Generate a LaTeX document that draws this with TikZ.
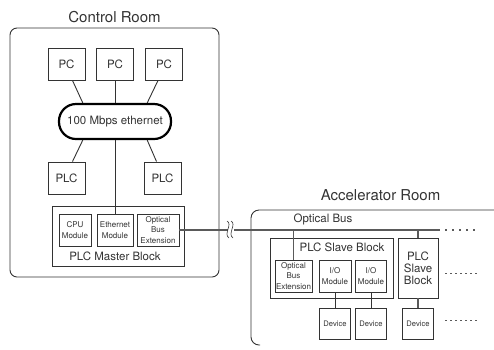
\documentclass[tikz,border=0pt]{standalone}
\usepackage{fontspec}
\setmainfont{TeX Gyre Heros}
\definecolor{ink}{HTML}{333333}
\definecolor{bus}{HTML}{5A5A5A}
\usetikzlibrary{positioning}
\tikzset{
  box/.style={draw=ink, fill=white, align=center, inner sep=0.5pt, line width=0.9pt},
  lnk/.style={draw=ink, line width=0.9pt},
  buslnk/.style={draw=bus, line width=1.6pt},
  title/.style={font=\fontsize{15}{18}\selectfont, text=ink},
  lbl/.style={font=\fontsize{11.5}{12}\selectfont, text=ink, align=center},
  small/.style={font=\fontsize{8}{10.5}\selectfont, text=ink},
  devtxt/.style={font=\fontsize{7.6}{9}\selectfont, text=ink},
}

\begin{document}
\begin{tikzpicture}[x=1pt,y=-1pt,
    room/.style={draw=ink,line width=0.9pt,rounded corners=7pt},
    dots/.style={draw=bus,line width=1pt,dash pattern=on 1.5pt off 3.5pt}]
  \useasboundingbox (0,0) rectangle (494,349);
  % control room
  \node[room,minimum width=209,minimum height=249] (ctrl) at (114.5,152.5) {};
  \node[title,above=1pt of ctrl] (ctrltitle) {Control Room};
  \node[box,lbl,minimum width=37,minimum height=32] (pc1) at (66.5,64) {PC};
  \node[box,lbl,minimum width=37,minimum height=32] (pc2) at (115,64) {PC};
  \node[box,lbl,minimum width=37,minimum height=32] (pc3) at (164,64) {PC};
  \node[draw=black,fill=white,line width=2.2pt,rounded corners=17pt,lbl,
        minimum width=112,minimum height=35] (eth) at (115,121.5) {100 Mbps ethernet};
  \node[box,lbl,minimum width=37,minimum height=32] (plc1) at (66.5,178) {PLC};
  \node[box,lbl,minimum width=37,minimum height=32] (plc2) at (162.5,178) {PLC};
  \node[box,minimum width=132,minimum height=60] (master) at (118,236) {};
  \node[box,small,minimum width=32,minimum height=32] (cpu) at (75,230) {CPU\\Module};
  \node[box,small,minimum width=36,minimum height=32] (ethmod) at (115,230) {Ethernet\\Module};
  \node[box,small,minimum width=42,minimum height=32] (mobe) at (158,230) {Optical\\Bus\\Extension};
  \node[lbl] (masterlbl) at (115,256) {PLC Master Block};
  \draw[lnk] (pc1.-70) -- (eth.150);
  \draw[lnk] (pc2.south) -- (eth.north);
  \draw[lnk] (pc3.-110) -- (eth.30);
  \draw[lnk] (eth.210) -- (plc1.70);
  \draw[lnk] (eth.-30) -- (plc2.110);
  \draw[lnk] (eth.south) -- (ethmod.north);

  % accelerator room
  \draw[room,rounded corners=8pt] (494,210) -- (251,210) -- (251,345) -- (260,345);
  \node[title] (acctitle) at (380.5,195) {Accelerator Room};
  \node[lbl] (buslbl) at (323,219) {Optical Bus};
  \node[box,minimum width=123,minimum height=60] (slave) at (331.5,268) {};
  \node[lbl] (slavelbl) at (342,247) {PLC Slave Block};
  \node[box,small,minimum width=37,minimum height=32] (sobe) at (293.5,276) {Optical\\Bus\\Extension};
  \node[box,small,minimum width=32,minimum height=32] (io1) at (335,276) {I/O\\Module};
  \node[box,small,minimum width=31,minimum height=32] (io2) at (371,276) {I/O\\Module};
  \node[box,lbl,minimum width=40,minimum height=60] (slave2) at (418,268) {PLC\\Slave\\Block};
  \node[box,devtxt,minimum width=31,minimum height=31] (dev1) at (335,323.5) {Device};
  \node[box,devtxt,minimum width=31,minimum height=31] (dev2) at (371,323.5) {Device};
  \node[box,devtxt,minimum width=31,minimum height=31] (dev3) at (418,323.5) {Device};

  % optical bus
  \coordinate (brkL) at (228,230);
  \coordinate (brkR) at (234,230);
  \coordinate (busend) at (440,230);
  \draw[buslnk] (mobe.east) -- (brkL);
  \draw[buslnk] (brkR) -- (busend);
  \draw[ink,line width=0.6pt] (227,221) .. controls (233,224) and (223,234) .. (229,238);
  \draw[ink,line width=0.6pt] (231,221) .. controls (237,224) and (227,234) .. (233,238);
  \draw[buslnk] (sobe.north |- busend) -- (sobe.north);
  \draw[buslnk] (slave2.north |- busend) -- (slave2.north);
  \draw[lnk] (io1.south) -- (dev1.north);
  \draw[lnk] (io2.south) -- (dev2.north);
  \draw[buslnk] (slave2.south) -- (dev3.north);

  % continued
  \coordinate (dotA1) at (445,230); \coordinate (dotA2) at (478,230);
  \coordinate (dotB1) at (445,273); \coordinate (dotB2) at (478,273);
  \coordinate (dotC1) at (445,320); \coordinate (dotC2) at (478,320);
  \draw[dots,line width=1.4pt,dash pattern=on 2pt off 5pt] (dotA1) -- (dotA2);
  \draw[dots] (dotB1) -- (dotB2);
  \draw[dots] (dotC1) -- (dotC2);
\end{tikzpicture}
\end{document}
